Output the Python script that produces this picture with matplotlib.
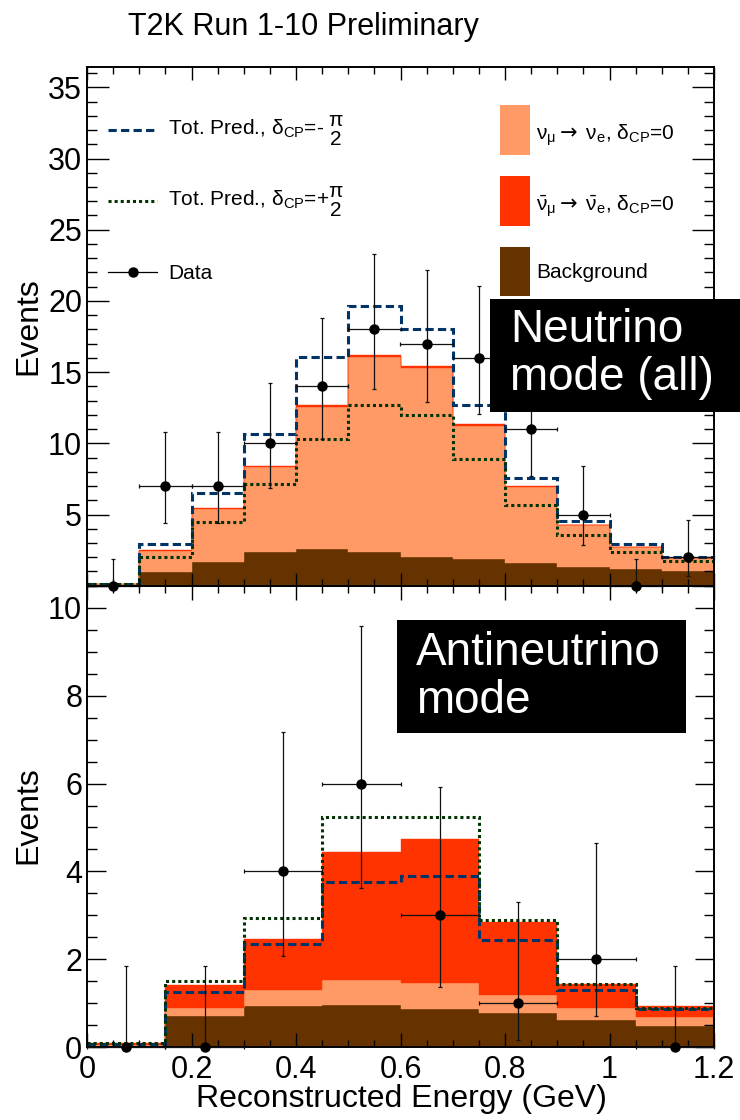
import math
import numpy as np
import matplotlib
matplotlib.use("Agg")
import matplotlib.pyplot as plt
from matplotlib.patches import Rectangle
from matplotlib.ticker import MultipleLocator, FuncFormatter

plt.rcParams['font.family'] = ['Liberation Sans', 'DejaVu Sans']
plt.rcParams['mathtext.fontset'] = 'custom'
plt.rcParams['mathtext.rm'] = 'Liberation Sans'
plt.rcParams['mathtext.it'] = 'Liberation Sans:italic'
plt.rcParams['mathtext.bf'] = 'Liberation Sans:bold'
plt.rcParams['mathtext.sf'] = 'DejaVu Sans'
plt.rcParams['mathtext.default'] = 'regular'
plt.rcParams['mathtext.fallback'] = 'stixsans'

# ---- neutrino mode (FHC), 0.1 GeV bins ----
nu_edges = [0.0, 0.1, 0.2, 0.3, 0.4, 0.5, 0.6, 0.7, 0.8, 0.9, 1.0, 1.1, 1.2]
nu_bkg = [0.05, 0.97, 1.68, 2.37, 2.58, 2.35, 2.04, 1.85, 1.61, 1.33, 1.14, 1.00]
nu_numu_nue = [0.04, 1.50, 3.70, 5.97, 9.97, 13.72, 13.28, 9.37, 5.30, 2.90, 1.57, 0.94]
nu_numubar_nuebar = [0.01, 0.04, 0.07, 0.10, 0.13, 0.14, 0.13, 0.11, 0.08, 0.06, 0.04, 0.03]
nu_pred_minus = [0.15, 2.91, 6.54, 10.66, 16.07, 19.67, 18.01, 12.70, 7.56, 4.53, 2.91, 2.04]
nu_pred_plus = [0.10, 2.04, 4.45, 7.11, 10.33, 12.70, 11.99, 8.89, 5.64, 3.53, 2.35, 1.71]
nu_data = [0, 7, 7, 10, 14, 18, 17, 16, 11, 5, 0, 2]

# ---- antineutrino mode (RHC), 0.15 GeV bins ----
anu_edges = [0.0, 0.15, 0.3, 0.45, 0.6, 0.75, 0.9, 1.05, 1.2]
anu_bkg = [0.04, 0.71, 0.95, 0.97, 0.88, 0.77, 0.61, 0.49]
anu_numu_nue = [0.02, 0.19, 0.36, 0.57, 0.58, 0.43, 0.28, 0.21]
anu_numubar_nuebar = [0.03, 0.52, 1.16, 2.90, 3.28, 1.64, 0.56, 0.24]
anu_pred_minus = [0.08, 1.26, 2.35, 3.77, 3.90, 2.43, 1.31, 0.88]
anu_pred_plus = [0.10, 1.51, 2.93, 5.25, 5.23, 2.90, 1.43, 0.90]
anu_data = [0, 0, 4, 6, 3, 1, 2, 0]

C_BKG = '#663300'
C_NUE = '#ff9966'
C_NUEBAR = '#ff3300'
C_MINUS = '#003366'
C_PLUS = '#003300'
DASH = (0, (2.7, 1.4))
DOT = (0, (1.0, 1.0))

W, H = 740, 1120


def poisson_cdf(k, mu):
    term = math.exp(-mu)
    s = term
    for i in range(1, k + 1):
        term *= mu / i
        s += term
    return s


def solve_mu(k, target):
    # cdf(k, mu) falls with mu: bisect for cdf == target
    lo, hi = 0.0, 100.0
    for _ in range(80):
        mid = 0.5 * (lo + hi)
        if poisson_cdf(k, mid) > target:
            lo = mid
        else:
            hi = mid
    return 0.5 * (lo + hi)


def garwood(counts):
    a = 0.5 * (1 - 0.682689)
    lo = np.array([0.0 if n == 0 else solve_mu(n - 1, 1 - a) for n in counts])
    hi = np.array([solve_mu(n, a) for n in counts])
    return lo, hi


def draw_panel(ax, edges, bkg, nue, nuebar, minus, plus, data):
    edges = np.asarray(edges)
    s1 = np.asarray(bkg)
    s2 = s1 + np.asarray(nue)
    s3 = s2 + np.asarray(nuebar)
    ax.stairs(s1, edges, baseline=0, fill=True, facecolor=C_BKG,
              edgecolor=C_BKG, lw=0.3)
    ax.stairs(s2, edges, baseline=s1, fill=True, facecolor=C_NUE,
              edgecolor=C_NUE, lw=0.3)
    ax.stairs(s3, edges, baseline=s2, fill=True, facecolor=C_NUEBAR,
              edgecolor=C_NUEBAR, lw=0.3)
    ax.stairs(minus, edges, baseline=None, color=C_MINUS, lw=2.2, ls=DASH)
    ax.stairs(plus, edges, baseline=None, color=C_PLUS, lw=2.2, ls=DOT)

    counts = np.asarray(data)
    centers = 0.5 * (edges[:-1] + edges[1:])
    half = 0.5 * np.diff(edges)
    lo, hi = garwood(counts)
    eb = ax.errorbar(centers, counts, xerr=half, yerr=[counts - lo, hi - counts],
                     fmt='o', color='black', ms=6.5, elinewidth=0.9,
                     ecolor='#111111', capsize=1.6, capthick=0.9, zorder=6)
    line, caps, bars = eb.lines
    for art in [line, *caps, *bars]:
        art.set_clip_on(False)


def style_axes(ax, ymax, ymajor, yminor, xlen, ylen):
    ax.set_xlim(0, 1.2)
    ax.set_ylim(0, ymax)
    ax.xaxis.set_major_locator(MultipleLocator(0.2))
    ax.xaxis.set_minor_locator(MultipleLocator(0.05))
    ax.xaxis.set_major_formatter(FuncFormatter(lambda v, p: f'{v:g}'))
    ax.yaxis.set_major_locator(MultipleLocator(ymajor))
    ax.yaxis.set_minor_locator(MultipleLocator(yminor))
    ax.tick_params(which='both', direction='in', top=True, right=True,
                   width=1.0, labelsize=22)
    ax.tick_params(axis='x', which='major', length=xlen, pad=5.5)
    ax.tick_params(axis='x', which='minor', length=xlen * 0.5)
    ax.tick_params(axis='y', which='major', length=ylen, pad=3.5)
    ax.tick_params(axis='y', which='minor', length=7.2)
    for sp in ax.spines.values():
        sp.set_linewidth(1.4)


def axes_rect(x0, y0, x1, y1):
    return [x0 / W, 1 - y1 / H, (x1 - x0) / W, (y1 - y0) / H]


fig = plt.figure(figsize=(W / 100, H / 100), dpi=100)
ax_nu = fig.add_axes(axes_rect(87, 66.7, 714, 585.7))
ax_anu = fig.add_axes(axes_rect(87, 585.7, 714, 1047.3))
ax_anu.patch.set_visible(False)

draw_panel(ax_nu, nu_edges, nu_bkg, nu_numu_nue, nu_numubar_nuebar,
           nu_pred_minus, nu_pred_plus, nu_data)
draw_panel(ax_anu, anu_edges, anu_bkg, anu_numu_nue, anu_numubar_nuebar,
           anu_pred_minus, anu_pred_plus, anu_data)

style_axes(ax_nu, 36.45, 5, 1, 9.4, 15.8)
ax_nu.yaxis.set_major_formatter(FuncFormatter(lambda v, p: '' if abs(v) < 1e-9 else f'{v:g}'))
ax_nu.tick_params(axis='x', labelbottom=False)
style_axes(ax_anu, 10.5, 2, 0.5, 10.0, 13.7)

# legend, placed in pixel units of the upper panel
def lx(x):
    return (x - 87) / 627


def ly(y):
    return (585.7 - y) / 519


tr = ax_nu.transAxes
leg_font = 15
half_pi = r'\genfrac{}{}{0}{0}{\pi}{2}'
ax_nu.plot([lx(108), lx(157)], [ly(130)] * 2, transform=tr, color=C_MINUS, lw=2.2, ls=DASH)
ax_nu.text(lx(168), ly(135), r'Tot. Pred., $\delta_{CP}$=- $' + half_pi + '$',
           transform=tr, fontsize=leg_font, va='baseline')
ax_nu.plot([lx(108), lx(157)], [ly(201)] * 2, transform=tr, color=C_PLUS, lw=2.2, ls=DOT)
ax_nu.text(lx(168), ly(206), r'Tot. Pred., $\delta_{CP}$=+$' + half_pi + '$',
           transform=tr, fontsize=leg_font, va='baseline')
ax_nu.plot([lx(108), lx(157)], [ly(272)] * 2, transform=tr, color='black', lw=0.9)
ax_nu.plot([lx(132.5)], [ly(272)], transform=tr, marker='o', ms=6.5, color='black')
ax_nu.text(lx(168), ly(279), 'Data', transform=tr, fontsize=leg_font, va='baseline')

arrow = r'\mathsf{\rightarrow}'
boxes = [(105, 155, C_NUE, r'$\nu_{\mu}' + arrow + r'\ \nu_{e}$, $\delta_{CP}$=0', 140),
         (176, 226, C_NUEBAR, r'$\bar{\nu}_{\mu}' + arrow + r'\ \bar{\nu}_{e}$, $\delta_{CP}$=0', 211),
         (247, 296, C_BKG, 'Background', 278)]
for top, bot, col, lab, base in boxes:
    ax_nu.add_patch(Rectangle((lx(500), ly(bot)), lx(530) - lx(500), ly(top) - ly(bot),
                              transform=tr, facecolor=col, edgecolor='none'))
    ax_nu.text(lx(536), ly(base), lab, transform=tr, fontsize=leg_font, va='baseline')

# mode labels
fig.add_artist(Rectangle((490 / W, 1 - 412 / H), 250 / W, 113 / H,
                         transform=fig.transFigure, facecolor='black', edgecolor='none', zorder=5))
fig.text(510 / W, 1 - 342 / H, 'Neutrino', color='white', fontsize=33, va='baseline', zorder=6)
fig.text(510 / W, 1 - 390 / H, 'mode (all)', color='white', fontsize=33, va='baseline', zorder=6)
fig.add_artist(Rectangle((397 / W, 1 - 733 / H), 289 / W, 113 / H,
                         transform=fig.transFigure, facecolor='black', edgecolor='none', zorder=5))
fig.text(416 / W, 1 - 665 / H, 'Antineutrino', color='white', fontsize=33, va='baseline', zorder=6)
fig.text(416 / W, 1 - 713 / H, 'mode', color='white', fontsize=33, va='baseline', zorder=6)

# titles
fig.text(128 / W, 1 - 35 / H, 'T2K Run 1-10 Preliminary', fontsize=22, va='baseline')
fig.text(28 / W, 1 - 326 / H, 'Events', fontsize=23, rotation=90, ha='center', va='center')
fig.text(28 / W, 1 - 815 / H, 'Events', fontsize=23, rotation=90, ha='center', va='center')
fig.text(401 / W, 1 - 1107 / H, 'Reconstructed Energy (GeV)', fontsize=23,
         ha='center', va='baseline')

fig.savefig('out.png', dpi=100)
